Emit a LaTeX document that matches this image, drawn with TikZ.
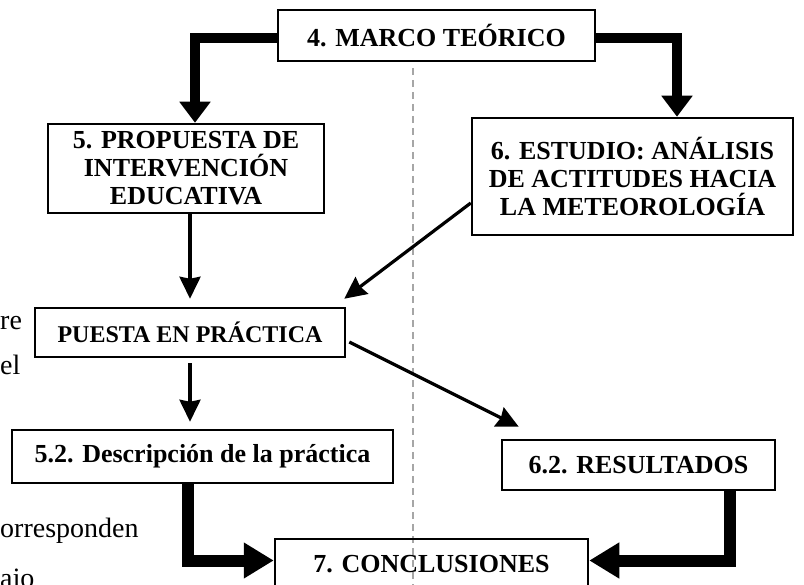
\documentclass[tikz,border=0pt]{standalone}
\usepackage{fontspec}
\setmainfont{Liberation Serif}
\usetikzlibrary{arrows.meta}

\tikzset{
  caja/.style={draw, line width=2.5pt, align=center, inner sep=0pt,
    font=\fontsize{26}{28}\selectfont\bfseries},
  flecha/.style={line width=3.2pt, -{Stealth[length=22pt,width=21pt,inset=2pt]}},
  bloque/.style={line width=10pt, -{Triangle[length=21pt,width=30pt]}},
  bloqueb/.style={line width=12pt, -{Triangle[length=30pt,width=34pt]}},
  resto/.style={font=\fontsize{28}{30}\selectfont, inner sep=0pt, anchor=base west}
}

\begin{document}
\begin{tikzpicture}[x=1pt,y=-1pt]
	\useasboundingbox (0,0) rectangle (804,585);
	% linea divisoria
	\draw [gray!70, line width=1.5pt, dash pattern=on 7pt off 5pt] (413,68) -- (413,592);
	% cajas
	\node [caja, minimum width=317, minimum height=51] (marco) at (436.5,35.5) {4. MARCO TEÓRICO};
	\node [caja, minimum width=276, minimum height=89] (prop) at (186,168.5) {5. PROPUESTA DE\\INTERVENCIÓN\\EDUCATIVA};
	\node [caja, minimum width=321, minimum height=117] (estudio) at (632.5,176.5) {6. ESTUDIO: ANÁLISIS\\DE ACTITUDES HACIA\\LA METEOROLOGÍA};
	\node [caja, minimum width=310, minimum height=49, font=\fontsize{24}{26}\selectfont\bfseries] (puesta) at (190,332.5) {PUESTA EN PRÁCTICA};
	\node [caja, minimum width=381, minimum height=53] (desc) at (202.5,456.5) {5.2. Descripción de la práctica};
	\node [caja, minimum width=273, minimum height=50] (result) at (638.5,465) {6.2. RESULTADOS};
	\node [caja, minimum width=313, minimum height=51] (concl) at (431.5,564.5) {7. CONCLUSIONES};
	% texto del margen
	\node [resto] (t1) at (0,330) {re};
	\node [resto] (t2) at (0,375) {el};
	\node [resto] (t3) at (0,537) {orresponden};
	\node [resto] (t4) at (0,587) {ajo};
	% flechas gruesas
	\draw [bloque] ([yshift=-2.5pt]marco.west) -| ([xshift=9pt]prop.north);
	\draw [bloque] ([yshift=-2.5pt]marco.east) -| ([xshift=44.5pt]estudio.north);
	\draw [bloqueb] ([xshift=-14.5pt]desc.south) |- ([yshift=4pt]concl.west);
	\draw [bloqueb] ([xshift=91.5pt]result.south) |- ([yshift=4pt]concl.east);
	% flechas finas
	\draw [flecha] (puesta.north |- prop.south) -- ([yshift=8pt]puesta.north);
	\draw [flecha] ([yshift=-26.5pt]estudio.west) -- ([xshift=-2pt,yshift=8pt]puesta.north east);
	\draw [flecha] ([yshift=-5pt]puesta.south) -- ([yshift=7pt]puesta.south |- desc.north);
	\draw [flecha] ([xshift=3pt,yshift=-9.5pt]puesta.east) -- ([xshift=18pt,yshift=12pt]result.north west);
\end{tikzpicture}
\end{document}
